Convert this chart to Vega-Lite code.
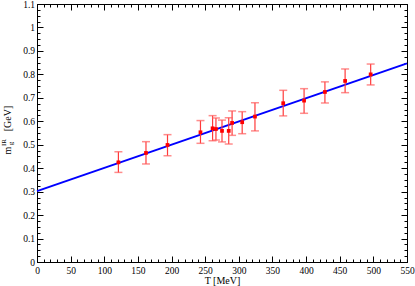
{
  "$schema": "https://vega.github.io/schema/vega-lite/v6.json",
  "width": 370,
  "height": 258,
  "autosize": {"type": "none"},
  "padding": {"left": 37, "top": 4, "right": 8, "bottom": 24},
  "background": "white",
  "config": {
    "view": {"stroke": "black", "strokeWidth": 1},
    "axis": {"grid": false, "domain": false, "tickColor": "black", "tickWidth": 1, "labelFont": "Liberation Serif", "titleFont": "Liberation Serif", "labelColor": "black", "titleColor": "black", "titleFontWeight": "normal", "labelFontSize": 9.5, "titleFontSize": 10}
  },
  "datasets": {
    "pts": [
      {"T": 121, "m": 0.425, "lo": 0.382, "hi": 0.470},
      {"T": 162, "m": 0.465, "lo": 0.418, "hi": 0.513},
      {"T": 194, "m": 0.499, "lo": 0.453, "hi": 0.543},
      {"T": 243, "m": 0.553, "lo": 0.506, "hi": 0.603},
      {"T": 261, "m": 0.570, "lo": 0.517, "hi": 0.624},
      {"T": 266, "m": 0.567, "lo": 0.520, "hi": 0.614},
      {"T": 275, "m": 0.559, "lo": 0.512, "hi": 0.605},
      {"T": 285, "m": 0.559, "lo": 0.503, "hi": 0.615},
      {"T": 290, "m": 0.593, "lo": 0.540, "hi": 0.644},
      {"T": 305, "m": 0.596, "lo": 0.547, "hi": 0.641},
      {"T": 324, "m": 0.620, "lo": 0.559, "hi": 0.679},
      {"T": 366, "m": 0.677, "lo": 0.623, "hi": 0.732},
      {"T": 397, "m": 0.688, "lo": 0.634, "hi": 0.739},
      {"T": 428, "m": 0.725, "lo": 0.678, "hi": 0.768},
      {"T": 458, "m": 0.772, "lo": 0.722, "hi": 0.823},
      {"T": 496, "m": 0.800, "lo": 0.755, "hi": 0.844}
    ],
    "fit": [
      {"T": 0, "m": 0.302},
      {"T": 550, "m": 0.847}
    ]
  },
  "resolve": {
    "scale": {"x": "shared", "y": "shared"},
    "axis": {"x": "independent", "y": "independent"}
  },
  "layer": [
    {
      "data": {"name": "fit"},
      "mark": {"type": "line", "color": "#0000ff", "strokeWidth": 2},
      "encoding": {
        "x": {"field": "T", "type": "quantitative", "scale": {"domain": [0, 550], "nice": false, "zero": false},
          "axis": {"orient": "bottom", "values": [0,50,100,150,200,250,300,350,400,450,500,550], "format": "d", "tickSize": -6, "labelPadding": 9, "title": "T  [MeV]", "titleX": 185, "titleY": 21, "titleAlign": "center", "titleBaseline": "alphabetic", "labelFlush": false, "labelOverlap": false}},
        "y": {"field": "m", "type": "quantitative", "scale": {"domain": [0, 1.1], "nice": false, "zero": false},
          "axis": {"orient": "left", "values": [0,0.1,0.2,0.3,0.4,0.5,0.6,0.7,0.8,0.9,1,1.1], "format": "~g", "tickSize": -6, "labelPadding": 8.5, "title": "[GeV]", "titleAngle": 270, "titleX": -26.5, "titleY": 114, "titleAlign": "center", "titleBaseline": "alphabetic", "labelFlush": false, "labelOverlap": false}}
      }
    },
    {
      "data": {"name": "pts"},
      "mark": {"type": "rule", "color": "#ff3a3a", "strokeWidth": 1.2},
      "encoding": {
        "x": {"field": "T", "type": "quantitative", "scale": {"domain": [0, 550], "nice": false, "zero": false},
          "axis": {"orient": "bottom", "values": [0,10,20,30,40,50,60,70,80,90,100,110,120,130,140,150,160,170,180,190,200,210,220,230,240,250,260,270,280,290,300,310,320,330,340,350,360,370,380,390,400,410,420,430,440,450,460,470,480,490,500,510,520,530,540,550], "tickSize": -3, "labels": false, "title": null}},
        "y": {"field": "lo", "type": "quantitative", "scale": {"domain": [0, 1.1], "nice": false, "zero": false},
          "axis": {"orient": "left", "values": [0,0.025,0.05,0.075,0.1,0.125,0.15,0.175,0.2,0.225,0.25,0.275,0.3,0.325,0.35,0.375,0.4,0.425,0.45,0.475,0.5,0.525,0.55,0.575,0.6,0.625,0.65,0.675,0.7,0.725,0.75,0.775,0.8,0.825,0.85,0.875,0.9,0.925,0.95,0.975,1,1.025,1.05,1.075,1.1], "tickSize": -3, "labels": false, "title": "m", "titleAngle": 270, "titleX": -26.5, "titleY": 146, "titleAlign": "center", "titleBaseline": "alphabetic"}},
        "y2": {"field": "hi"}
      }
    },
    {
      "data": {"name": "pts"},
      "mark": {"type": "tick", "orient": "horizontal", "color": "#ff5c5c", "thickness": 1.5, "size": 8},
      "encoding": {
        "x": {"field": "T", "type": "quantitative", "scale": {"domain": [0, 550], "nice": false, "zero": false},
          "axis": {"orient": "top", "values": [0,50,100,150,200,250,300,350,400,450,500,550], "tickSize": -6, "labels": false, "title": null}},
        "y": {"field": "hi", "type": "quantitative", "scale": {"domain": [0, 1.1], "nice": false, "zero": false},
          "axis": {"orient": "right", "values": [0,0.1,0.2,0.3,0.4,0.5,0.6,0.7,0.8,0.9,1,1.1], "tickSize": -6, "labels": false, "title": "IR", "titleFontSize": 7, "titleAngle": 270, "titleX": -401.5, "titleY": 138, "titleAlign": "center", "titleBaseline": "alphabetic"}}
      }
    },
    {
      "data": {"name": "pts"},
      "mark": {"type": "tick", "orient": "horizontal", "color": "#ff5c5c", "thickness": 1.5, "size": 8},
      "encoding": {
        "x": {"field": "T", "type": "quantitative", "scale": {"domain": [0, 550], "nice": false, "zero": false},
          "axis": {"orient": "top", "values": [0,10,20,30,40,50,60,70,80,90,100,110,120,130,140,150,160,170,180,190,200,210,220,230,240,250,260,270,280,290,300,310,320,330,340,350,360,370,380,390,400,410,420,430,440,450,460,470,480,490,500,510,520,530,540,550], "tickSize": -3, "labels": false, "title": null}},
        "y": {"field": "lo", "type": "quantitative", "scale": {"domain": [0, 1.1], "nice": false, "zero": false},
          "axis": {"orient": "right", "values": [0,0.025,0.05,0.075,0.1,0.125,0.15,0.175,0.2,0.225,0.25,0.275,0.3,0.325,0.35,0.375,0.4,0.425,0.45,0.475,0.5,0.525,0.55,0.575,0.6,0.625,0.65,0.675,0.7,0.725,0.75,0.775,0.8,0.825,0.85,0.875,0.9,0.925,0.95,0.975,1,1.025,1.05,1.075,1.1], "tickSize": -3, "labels": false, "title": "g", "titleFontSize": 7, "titleAngle": 270, "titleX": -395, "titleY": 139, "titleAlign": "center", "titleBaseline": "alphabetic"}}
      }
    },
    {
      "data": {"name": "pts"},
      "mark": {"type": "point", "shape": "square", "filled": true, "color": "#ff0000", "size": 14, "opacity": 1},
      "encoding": {
        "x": {"field": "T", "type": "quantitative", "scale": {"domain": [0, 550], "nice": false, "zero": false}, "axis": null},
        "y": {"field": "m", "type": "quantitative", "scale": {"domain": [0, 1.1], "nice": false, "zero": false}, "axis": null}
      }
    }
  ]
}
